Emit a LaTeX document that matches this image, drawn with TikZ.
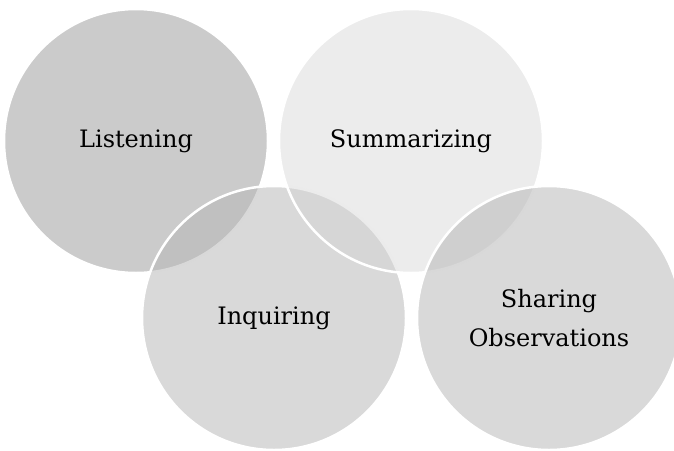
\documentclass[tikz,border=0pt]{standalone}
\usepackage{fontspec}
\setmainfont{DejaVu Serif}
\begin{document}
\begin{tikzpicture}[x=1pt,y=-1pt,
  bubble/.style={circle,minimum size=264pt,inner sep=0pt,draw=white,line width=2.5pt,
    align=center,font=\fontsize{24}{39}\selectfont,text=black}]
  \useasboundingbox (0,0) rectangle (674,450);
  % Draw the four circles, back to front
  \node[bubble,fill={rgb,255:red,203;green,203;blue,203}] (listening) at (136,141) {Listening};
  \node[bubble,fill={rgb,255:red,182;green,182;blue,182},fill opacity=0.52,text opacity=1] (inquiring) at (274,318) {Inquiring};
  \node[bubble,fill={rgb,255:red,212;green,212;blue,212},fill opacity=0.45,text opacity=1] (summarizing) at (411,141) {Summarizing};
  \node[bubble,fill={rgb,255:red,182;green,182;blue,182},fill opacity=0.52,text opacity=1] (sharing) at (549,318) {Sharing\\Observations};
\end{tikzpicture}
\end{document}
